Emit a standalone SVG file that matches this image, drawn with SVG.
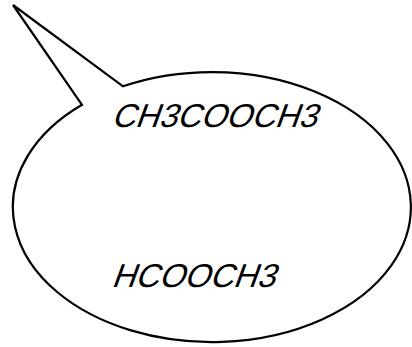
<svg xmlns="http://www.w3.org/2000/svg" width="412" height="347" viewBox="0 0 412 347">
<style>
.bubble{fill:#fff;stroke:#000;stroke-width:2.2;stroke-linejoin:miter}
.lbl{font-family:"Liberation Sans",Arial,sans-serif;font-size:33px;fill:#000}
</style>
<rect width="412" height="347" fill="#fff"/>
<g id="callout">
<path class="bubble" d="M 82,104.8 L 13,5 L 123,86.3 A 199 135 0 1 1 82,104.8 Z"/>
</g>
<g id="label1"><text class="lbl" transform="translate(111,126.5) skewX(-20) scale(0.99,1)">CH3COOCH3</text></g>
<g id="label2"><text class="lbl" transform="translate(111,286.5) skewX(-20) scale(0.99,1)">HCOOCH3</text></g>
<g id="connectors"/>
</svg>
